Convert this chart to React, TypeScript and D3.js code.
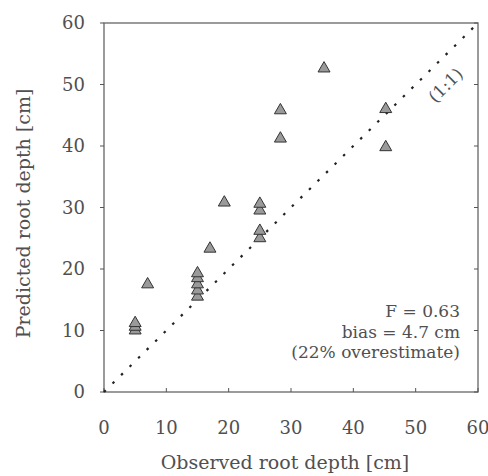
import * as d3 from 'd3'

// observed (x) vs predicted (y) root depth, cm
const observed = [5, 5, 5, 7, 15, 15, 15, 15, 15, 17, 19.3, 25, 25, 25, 25, 28.3, 28.3, 35.3, 45.2, 45.2]
const predicted = [10, 10.6, 11.2, 17.5, 15.5, 16.5, 17.5, 18.5, 19.3, 23.3, 30.8, 25, 26.2, 29.5, 30.6, 41.2, 45.8, 52.6, 46, 39.8]
const ticks = [0, 10, 20, 30, 40, 50, 60]
const statLines = ['F = 0.63', 'bias = 4.7 cm', '(22% overestimate)']

const W = 488
const H = 476
const margin = { top: 23, right: 10, bottom: 84, left: 104 }
const font = '"DejaVu Serif", "Liberation Serif", serif'
const ink = '#505050'

export default function App() {
  const x = d3.scaleLinear().domain([0, 60]).range([margin.left, W - margin.right])
  const y = d3.scaleLinear().domain([0, 60]).range([H - margin.bottom, margin.top])
  const tri = d3.symbol().type(d3.symbolTriangle).size(62)()
  const [x0, x1] = x.range()
  const [y0, y1] = y.range()

  return (
    <svg width={W} height={H} style={{ position: 'absolute', left: 0, top: 0, background: '#fff' }}>
      {/* frame */}
      <rect x={x0} y={y1} width={x1 - x0} height={y0 - y1} fill="none" stroke="#666" strokeWidth={1.3} />

      {/* ticks */}
      {ticks.map(t => (
        <g key={'t' + t}>
          <line x1={x(t)} x2={x(t)} y1={y0} y2={y0 - 4} stroke="#555" />
          <line x1={x0} x2={x0 - 4} y1={y(t)} y2={y(t)} stroke="#555" />
          <line x1={x1} x2={x1 - 4} y1={y(t)} y2={y(t)} stroke="#555" />
          <text x={x(t)} y={y0 + 42} textAnchor="middle" fontFamily={font} fontSize={18} fill={ink}>{t}</text>
          <text x={x0 - 19} y={y(t) + 6} textAnchor="end" fontFamily={font} fontSize={18} fill={ink}>{t}</text>
        </g>
      ))}

      {/* 1:1 line */}
      <line x1={x(0)} y1={y(0)} x2={x(60)} y2={y(60)} stroke="#222" strokeWidth={2.2}
        strokeDasharray="2.5 9.5" />
      <text transform={`translate(${x(54.8)},${y(49.9)}) rotate(-45)`} textAnchor="middle" dy="0.35em"
        fontFamily={font} fontSize={17} fill={ink}>(1:1)</text>

      {/* points */}
      {observed.map((o, i) => (
        <path key={i} d={tri!} transform={`translate(${x(o)},${y(predicted[i])})`}
          fill="#9a9a9a" stroke="#333" strokeWidth={1} />
      ))}

      {/* stats */}
      {statLines.map((s, i) => (
        <text key={s} x={x1 - 18} y={317 + i * 20.5} textAnchor="end" fontFamily={font}
          fontSize={17} fill={ink}>{s}</text>
      ))}

      {/* axis titles */}
      <text x={(x0 + x1) / 2 - 6} y={469} textAnchor="middle" fontFamily={font} fontSize={19} fill={ink}>
        Observed root depth [cm]
      </text>
      <text transform={`translate(30,${(y0 + y1) / 2 + 6}) rotate(-90)`} textAnchor="middle"
        fontFamily={font} fontSize={19} fill={ink}>Predicted root depth [cm]</text>
    </svg>
  )
}
